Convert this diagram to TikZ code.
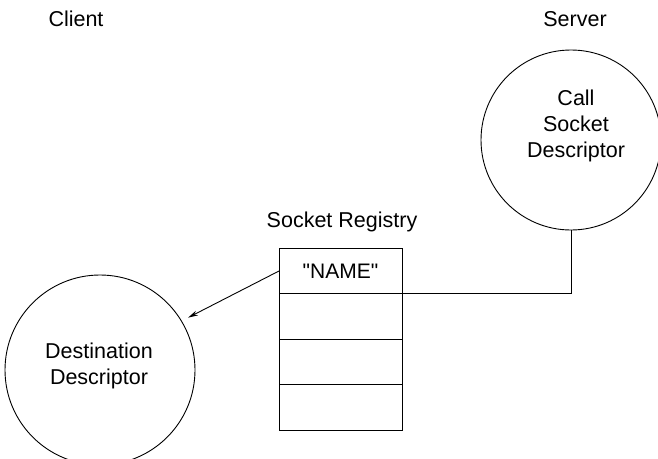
\documentclass[tikz,border=0pt]{standalone}
\usepackage{fontspec}
\setmainfont{Liberation Sans}
% family without TeX ligature mapping, so " stays a straight quote
\newfontfamily\cellfont{Liberation Sans}
\usetikzlibrary{arrows.meta,positioning,calc}
\begin{document}
\begin{tikzpicture}[x=1pt,y=-1pt,
  lbl/.style={font=\fontsize{21.5}{26}\selectfont, inner sep=0pt, align=center},
  ring/.style={draw, circle, line width=0.9pt, inner sep=0pt},
  cell/.style={draw, line width=0.9pt, minimum width=123pt, minimum height=45.5pt,
    inner sep=0pt, outer sep=0pt, font=\cellfont\fontsize{21}{24}\selectfont},
  wire/.style={line width=0.9pt},
  ptr/.style={line width=0.9pt, -{Stealth[length=10pt,width=5pt]}}]
\useasboundingbox (0,0) rectangle (658,458);

% column headings
\node[lbl] (client) at (76,19) {Client};
\node[lbl] (server) at (575,19) {Server};

% server side descriptor
\node[ring, minimum size=180pt] (srv) at (571,140) {};
\node[lbl] (srvtxt) at (576,126) {Call\\Socket\\Descriptor};

% client side descriptor
\node[ring, minimum size=190pt] (dest) at (100,370) {};
\node[lbl] (desttxt) at (99,366) {Destination\\Descriptor};

% socket registry table
\node[lbl] (regtitle) at (342,222) {Socket Registry};
\node[cell] (r1) at (340.5,271) {"NAME"};
\node[cell, below=0pt of r1] (r2) {};
\node[cell, below=0pt of r2] (r3) {};
\node[cell, below=0pt of r3] (r4) {};

% connectors
\coordinate (bend) at (srv.south |- r1.south east);
\draw[wire] (srv.south) -- (bend) -- (r1.south east);
\draw[ptr, shorten >=7pt] (r1.west) -- (dest.31);
\end{tikzpicture}
\end{document}
